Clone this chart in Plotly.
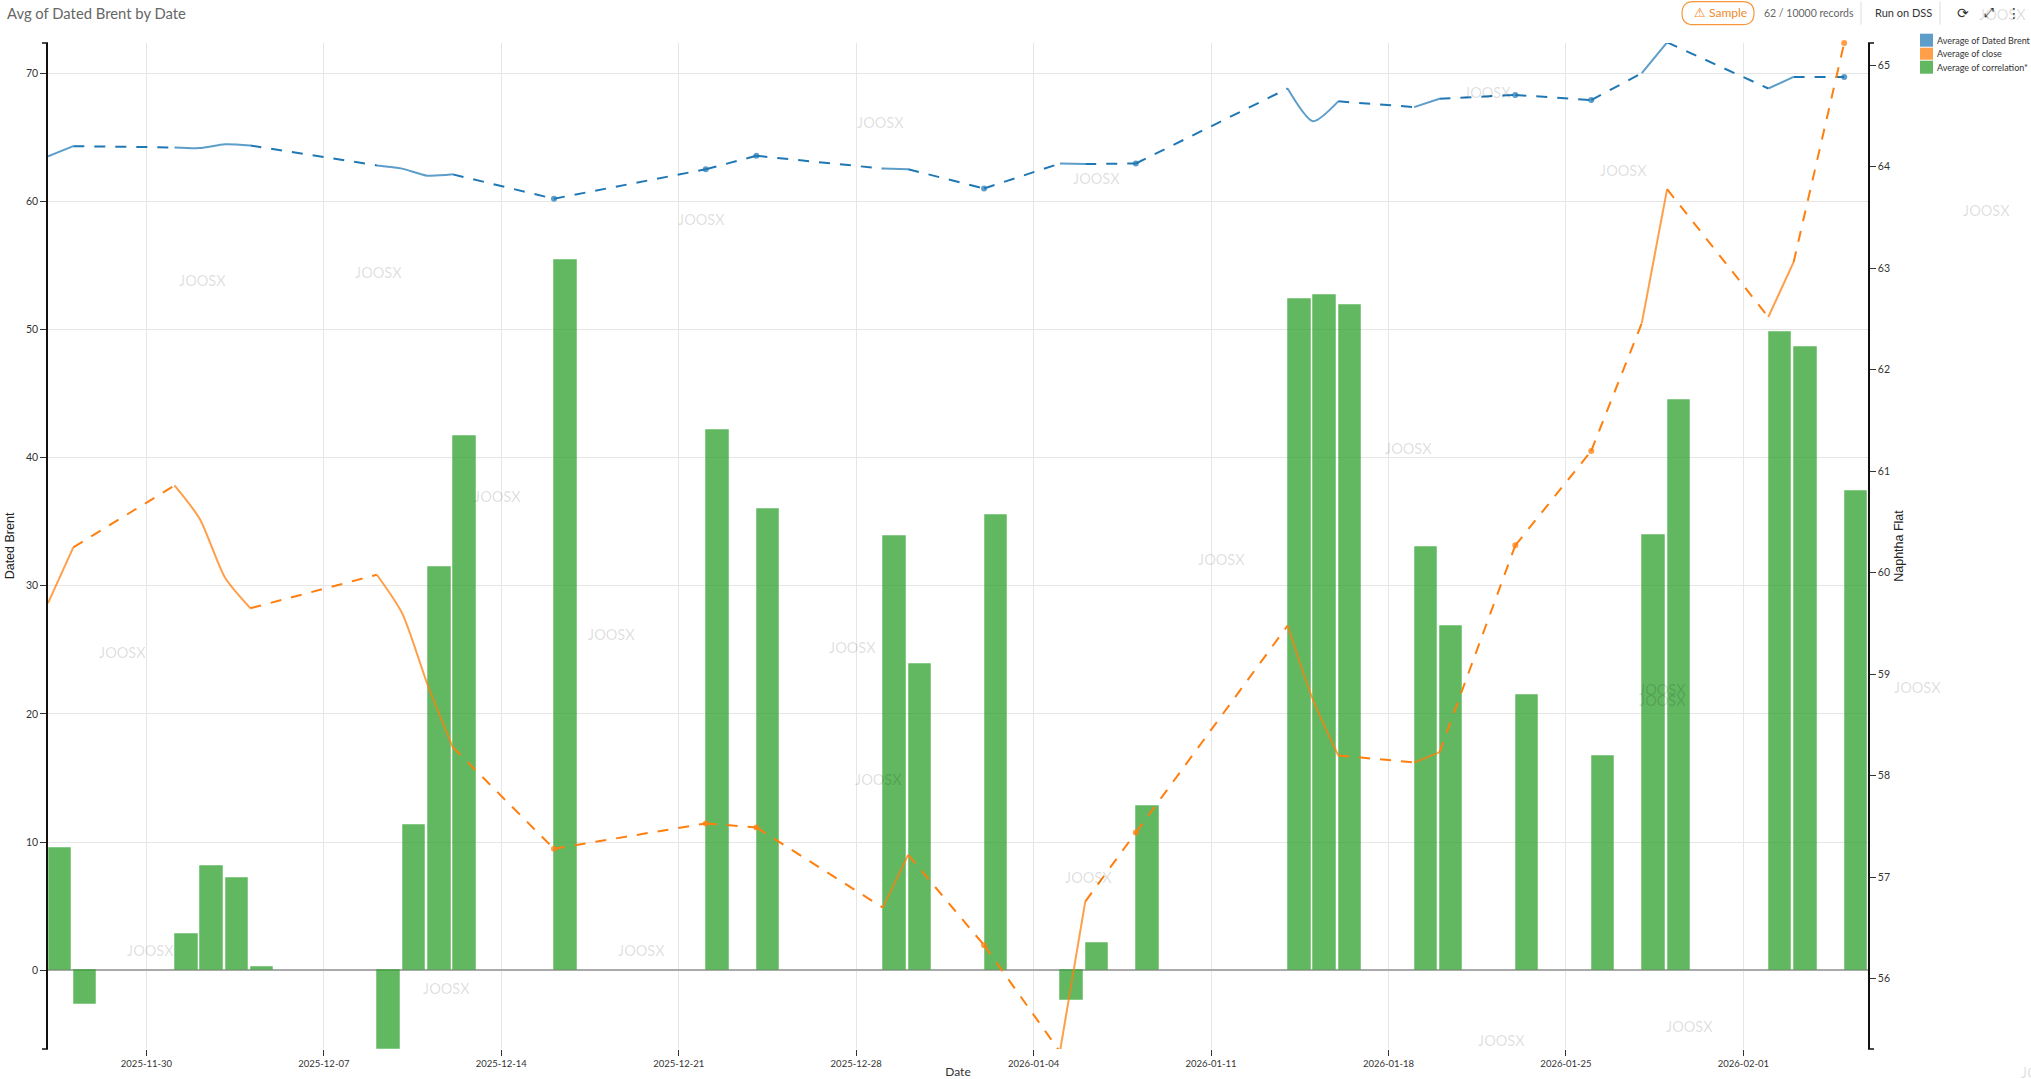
import pandas as pd
import plotly.graph_objects as go

# ---- data ----
dates = ["2025-11-26","2025-11-27","2025-12-01","2025-12-02","2025-12-03","2025-12-04",
         "2025-12-09","2025-12-10","2025-12-11","2025-12-12","2025-12-16","2025-12-22",
         "2025-12-24","2025-12-29","2025-12-30","2026-01-02","2026-01-05","2026-01-06",
         "2026-01-08","2026-01-14","2026-01-15","2026-01-16","2026-01-19","2026-01-20",
         "2026-01-23","2026-01-26","2026-01-28","2026-01-29","2026-02-02","2026-02-03",
         "2026-02-05"]
dated_brent = [63.5,64.3,64.2,64.15,64.45,64.35,62.8,62.55,62.0,62.1,60.2,62.5,63.55,62.55,62.5,
               61.0,62.95,62.9,62.95,68.8,66.25,67.8,67.35,68.0,68.3,67.9,70.0,72.4,68.8,69.7,69.7]
close = [59.7,60.25,60.86,60.53,59.95,59.65,59.98,59.6,58.9,58.28,57.28,57.53,57.49,56.7,57.22,
         56.33,55.28,56.76,57.44,59.48,58.75,58.2,58.13,58.23,60.27,61.2,62.46,63.78,62.52,63.06,65.22]
correlation = [9.53,-2.63,2.86,8.12,7.19,0.26,-6.14,11.33,31.45,41.65,55.4,42.15,36.0,33.9,23.9,
               35.5,-2.33,2.1,12.85,52.4,52.7,51.9,33.0,26.9,21.45,16.7,34.0,44.5,49.8,48.65,37.4]
tick_labels = ["2025-11-30","2025-12-07","2025-12-14","2025-12-21","2025-12-28","2026-01-04",
               "2026-01-11","2026-01-18","2026-01-25","2026-02-01"]

series_names = ["Average of Dated Brent", "Average of close", "Average of correlation*"]
BLUE, ORANGE, GREEN = "#1f77b4", "#ff7f0e", "#2ca02c"
BLUE_S, ORANGE_S, GREEN_S = "rgba(31,119,180,.72)", "rgba(255,127,14,.75)", "rgba(44,160,44,.75)"

wm_x = [202,378,122,150,497,446,611,641,701,880,1096,852,878,1088,1221,1408,1487,1623,1987,1918,1662,1662,1501,1689,2045,2003]
wm_y = [281,273,653,951,497,989,635,951,220,123,179,648,780,878,560,449,93,171,211,688,690,701,1041,1027,1072,15]

# ---- geometry ----
W, H = 2031, 1079
L, R, T, B = 47.9, 1868.0, 43.3, 1049.0
DATA_PX_PER_DAY, TICK_PX_PER_DAY = 25.30, 25.35
FONT = "Lato"
px = lambda v: (v - L) / (R - L)
py = lambda v: (B - v) / (B - T)

x = pd.to_datetime(dates)
days = [(d - x[0]).days for d in x]
x_end = x[0] + pd.Timedelta(days=(R - L) / DATA_PX_PER_DAY)
# ticks drift slightly against the data's band positions
first_tick = pd.Timestamp(tick_labels[0]) - pd.Timedelta(days=0.11)
tick_vals = [first_tick + pd.Timedelta(days=7 * k * TICK_PX_PER_DAY / DATA_PX_PER_DAY)
             for k in range(len(tick_labels))]


def split(values):
    """Solid line between consecutive days, dashed across gaps, marker on isolated points."""
    sx, sy, dx, dy, mx, my = [], [], [], [], [], []
    n = len(values)
    for i in range(n):
        prev_adj = i > 0 and days[i] - days[i - 1] == 1
        next_adj = i < n - 1 and days[i + 1] - days[i] == 1
        if prev_adj or next_adj:
            if sx and not prev_adj:
                sx.append(None); sy.append(None)
            sx.append(x[i]); sy.append(values[i])
        else:
            mx.append(x[i]); my.append(values[i])
        if i < n - 1 and not next_adj:
            dx += [x[i], x[i + 1], None]
            dy += [values[i], values[i + 1], None]
    return sx, sy, dx, dy, mx, my


fig = go.Figure()
fig.add_bar(x=x, y=correlation, name=series_names[2], yaxis="y",
            width=0.89 * 86400000, offset=0.02 * 86400000,
            marker=dict(color=GREEN_S, line=dict(color="rgba(44,160,44,.3)", width=1)),
            showlegend=False)

for vals, yaxis, col, col_s, nm in [(dated_brent, "y", BLUE, BLUE_S, series_names[0]),
                                    (close, "y2", ORANGE, ORANGE_S, series_names[1])]:
    sx, sy, dx, dy, mx, my = split(vals)
    fig.add_scatter(x=sx, y=sy, yaxis=yaxis, mode="lines", name=nm, showlegend=False,
                    line=dict(color=col_s, width=2, shape="spline", smoothing=0.7))
    fig.add_scatter(x=dx, y=dy, yaxis=yaxis, mode="lines", name=nm, showlegend=False,
                    line=dict(color=col, width=2, dash="11px,10px"))
    fig.add_scatter(x=mx, y=my, yaxis=yaxis, mode="markers", name=nm, showlegend=False, cliponaxis=False,
                    marker=dict(color=col_s, size=6))

tick_font = dict(family=FONT, size=9.5, color="#333")
val_font = dict(family=FONT, size=10.5, color="#333")
GRID = "#e6e6e6"
fig.update_layout(
    width=W, height=H, autosize=False, paper_bgcolor="white", plot_bgcolor="white",
    margin=dict(l=L, r=W - R, t=T, b=H - B, autoexpand=False, pad=0),
    showlegend=False, bargap=0, font=dict(family=FONT),
    xaxis=dict(type="date", range=[x[0], x_end], tickmode="array", tickvals=tick_vals, ticktext=tick_labels,
               ticks="outside", ticklen=6, tickcolor="#333", tickfont=tick_font,
               showgrid=True, gridcolor=GRID, gridwidth=1.2, zeroline=False, showline=False,
               title=dict(text="Date", font=dict(family=FONT, size=12, color="#333"), standoff=8)),
    yaxis=dict(range=[-6.14, 72.35], tick0=0, dtick=10, ticks="outside", ticklen=6, tickcolor="#333",
               tickfont=val_font, showgrid=True, gridcolor=GRID, gridwidth=1.2,
               zeroline=True, zerolinecolor="#aaaaaa", zerolinewidth=1.5,
               showline=True, linecolor="#111", linewidth=1.5,
               title=dict(text="Dated Brent", font=dict(family="Liberation Sans", size=12.5, color="#222"), standoff=9)),
    yaxis2=dict(range=[55.307, 65.22], overlaying="y", side="right", tick0=56, dtick=1, ticks="outside",
                ticklen=6, tickcolor="#333", tickfont=val_font, showgrid=False, zeroline=False,
                showline=True, linecolor="#111", linewidth=1.5,
                title=dict(text="Naphtha Flat", font=dict(family="Liberation Sans", size=12.5, color="#222"), standoff=5)),
)

shapes, ann = [], []


def text(t, xp, yp, size=11, color="#333", anchor="left", family=FONT, **kw):
    ann.append(dict(text=t, x=px(xp), y=py(yp), xref="paper", yref="paper", xanchor=anchor, yanchor="middle",
                    showarrow=False, font=dict(family=family, size=size, color=color), **kw))


def line(x0, y0, x1, y1, color="#111", width=1.5):
    shapes.append(dict(type="line", xref="paper", yref="paper", x0=px(x0), y0=py(y0), x1=px(x1), y1=py(y1),
                       line=dict(color=color, width=width)))


# axis end caps
for xa, d in [(L, -6), (R, 6)]:
    line(xa, T, xa + d, T)
    line(xa, B, xa + d, B)

# watermarks
for a, b in zip(wm_x, wm_y):
    text("JOOSX", a, b, size=14.5, color="rgba(0,0,0,.14)", anchor="center")

# title + header
text("Avg of Dated Brent by Date", 5, 13, size=14.8, color="#666")
bx0, bx1, by0, by1, r = px(1682), px(1754), py(2), py(25), 11.5
rx, ry = r / (R - L), r / (B - T)
shapes.append(dict(type="path", xref="paper", yref="paper", layer="below",
                   path=(f"M {bx0 + rx} {by0} L {bx1 - rx} {by0} Q {bx1} {by0} {bx1} {by0 - ry} "
                         f"Q {bx1} {by1} {bx1 - rx} {by1} L {bx0 + rx} {by1} Q {bx0} {by1} {bx0} {by1 + ry} "
                         f"Q {bx0} {by0} {bx0 + rx} {by0} Z"),
                   line=dict(color="#f5963c", width=1.2), fillcolor="white"))
text("⚠", 1692, 13, size=13, color="#f08a2c", family="DejaVu Sans")
text("Sample", 1707, 13, size=12, color="#f08a2c")
text("62 / 10000 records", 1762, 13, size=10.5, color="#666")
line(1861, 2, 1861, 25, color="#ddd", width=1)
text("Run on DSS", 1873, 13, size=11, color="#333")
line(1940, 2, 1940, 25, color="#ddd", width=1)
text("⟳", 1963, 13, size=14, color="#333", anchor="center", family="DejaVu Sans")
text("⤢", 1989, 13, size=13, color="#333", anchor="center", family="DejaVu Sans")
text("⋮", 2014, 13, size=14, color="#333", anchor="center", family="DejaVu Sans")

# legend
for nm, c, y0, y1 in [(series_names[0], BLUE_S, 34, 47), (series_names[1], ORANGE_S, 48, 60), (series_names[2], GREEN_S, 61, 74)]:
    shapes.append(dict(type="rect", xref="paper", yref="paper", x0=px(1920), x1=px(1933), y0=py(y0), y1=py(y1),
                       line=dict(width=0), fillcolor=c))
    text(nm, 1935, (y0 + y1) / 2, size=9, color="#333")

fig.update_layout(shapes=shapes, annotations=ann)
fig.write_html("out.html", config=dict(displayModeBar=False),
               post_script="document.body.style.margin='0';document.body.style.overflow='hidden';")
